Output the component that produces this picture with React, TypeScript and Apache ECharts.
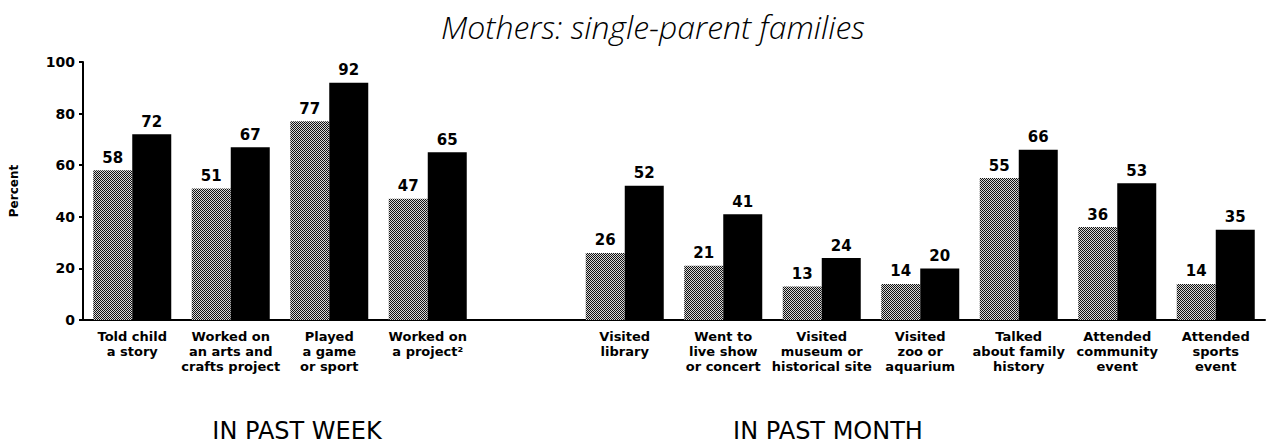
import React, { useEffect, useRef } from "react";
import * as echarts from "echarts";

const categories: string[] = [
  "Told child\na story",
  "Worked on\nan arts and\ncrafts project",
  "Played\na game\nor sport",
  "Worked on\na project²",
  "",
  "Visited\nlibrary",
  "Went to\nlive show\nor concert",
  "Visited\nmuseum or\nhistorical site",
  "Visited\nzoo or\naquarium",
  "Talked\nabout family\nhistory",
  "Attended\ncommunity\nevent",
  "Attended\nsports\nevent",
];
const grayValues: (number | null)[] = [58, 51, 77, 47, null, 26, 21, 13, 14, 55, 36, 14];
const blackValues: (number | null)[] = [72, 67, 92, 65, null, 52, 41, 24, 20, 66, 53, 35];
const yTicks = { min: 0, max: 100, interval: 20 };
const titleText = "Mothers: single-parent families";
const sectionLabels = ["IN PAST WEEK", "IN PAST MONTH"];

const FONT = "DejaVu Sans";

export default function App() {
  const ref = useRef<HTMLDivElement>(null);
  useEffect(() => {
    if (!ref.current) return;
    const chart = echarts.init(ref.current, undefined, { renderer: "svg" });

    const cv = document.createElement("canvas");
    cv.width = 2;
    cv.height = 2;
    const ctx = cv.getContext("2d")!;
    ctx.fillStyle = "#d8d8d8";
    ctx.fillRect(0, 0, 2, 2);
    ctx.fillStyle = "#111111";
    ctx.fillRect(0, 0, 1, 1);
    ctx.fillRect(1, 1, 1, 1);
    const pattern: any = { image: cv, imageWidth: 2, imageHeight: 2, repeat: "repeat" };

    const valueLabel = {
      show: true,
      position: "top",
      distance: 5,
      color: "#000",
      fontFamily: FONT,
      fontWeight: "bold",
      fontSize: 15,
    };

    chart.setOption({
      animation: false,
      backgroundColor: "#ffffff",
      title: {
        text: titleText,
        left: 436,
        top: 5,
        textStyle: {
          fontFamily: "Open Sans",
          fontStyle: "italic",
          fontWeight: 300,
          fontSize: 32,
          color: "#000",
        },
      },
      grid: { left: 82, right: 1, top: 62, bottom: 124, containLabel: false },
      xAxis: {
        type: "category",
        data: categories,
        axisLine: { show: true, lineStyle: { color: "#000", width: 2 } },
        axisTick: { show: false },
        axisLabel: {
          interval: 0,
          color: "#000",
          fontFamily: FONT,
          fontWeight: "bold",
          fontSize: 13,
          lineHeight: 15,
          margin: 9,
        },
      },
      yAxis: {
        type: "value",
        min: yTicks.min,
        max: yTicks.max,
        interval: yTicks.interval,
        name: "Percent",
        nameLocation: "middle",
        nameGap: 63,
        nameTextStyle: { color: "#000", fontFamily: FONT, fontSize: 12, fontWeight: "bold" },
        splitLine: { show: false },
        axisLine: { show: true, lineStyle: { color: "#000", width: 2 } },
        axisTick: { show: true, length: 4, lineStyle: { color: "#000", width: 2 } },
        axisLabel: {
          color: "#000",
          fontFamily: FONT,
          fontWeight: "bold",
          fontSize: 14,
          margin: 8,
        },
      },
      series: [
        {
          type: "bar",
          data: grayValues,
          barWidth: 39,
          barGap: "0%",
          itemStyle: { color: pattern },
          label: valueLabel,
        },
        {
          type: "bar",
          data: blackValues,
          barWidth: 39,
          barGap: "0%",
          itemStyle: { color: "#000" },
          label: valueLabel,
        },
      ],
      graphic: [
        {
          type: "text",
          x: 297,
          y: 431,
          style: {
            text: sectionLabels[0],
            fill: "#000",
            font: `24px "${FONT}"`,
            textAlign: "center",
            textVerticalAlign: "middle",
          },
        },
        {
          type: "text",
          x: 828,
          y: 431,
          style: {
            text: sectionLabels[1],
            fill: "#000",
            font: `24px "${FONT}"`,
            textAlign: "center",
            textVerticalAlign: "middle",
          },
        },
      ],
    });
    return () => chart.dispose();
  }, []);
  return (
    <div
      ref={ref}
      style={{ position: "fixed", left: 0, top: 0, width: 1266, height: 444, background: "#fff" }}
    />
  );
}
